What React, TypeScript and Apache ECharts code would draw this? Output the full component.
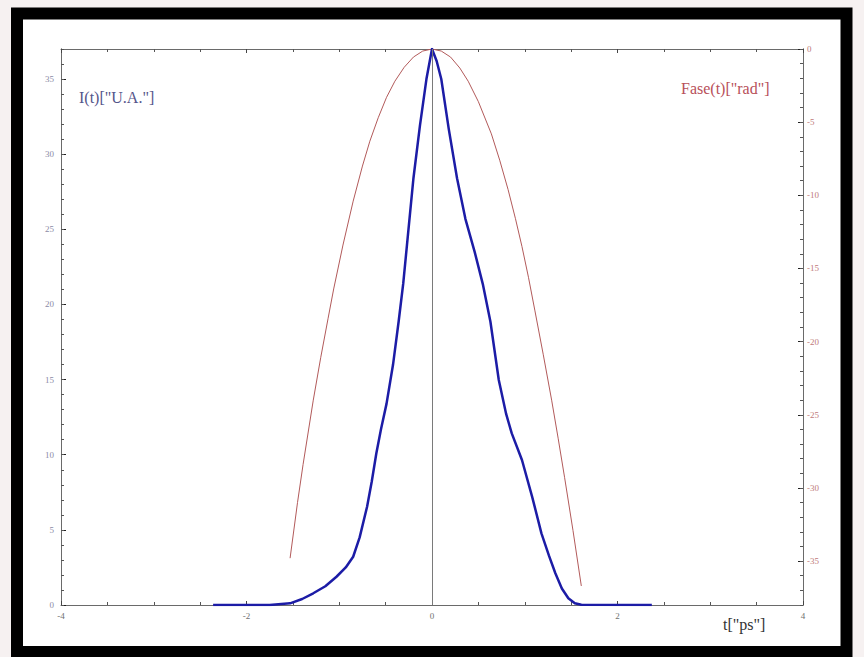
import React, { useEffect, useRef } from "react";
import * as echarts from "echarts";

// Pulse intensity I(t) [U.A.] sampled along t [ps]
const intensityT = [
  -2.36, -1.75, -1.53, -1.4, -1.28, -1.15, -1.03, -0.93, -0.85, -0.78, -0.7, -0.65, -0.6, -0.55,
  -0.49, -0.42, -0.36, -0.31, -0.27, -0.2, -0.13, -0.06, 0, 0.05, 0.1, 0.18, 0.27, 0.36, 0.46,
  0.55, 0.63, 0.72, 0.8, 0.86, 0.97, 1.08, 1.18, 1.26, 1.33, 1.4, 1.47, 1.54, 1.61, 2.37,
];
const intensity = [
  0, 0, 0.11, 0.4, 0.78, 1.25, 1.88, 2.5, 3.21, 4.5, 6.54, 8.2, 10.1, 11.7, 13.4, 16.0, 18.85,
  21.4, 23.95, 28.4, 31.9, 35.0, 37, 36.2, 35.0, 31.7, 28.4, 25.7, 23.5, 21.3, 18.85, 14.97,
  12.7, 11.42, 9.65, 7.2, 4.77, 3.3, 2.11, 1.1, 0.45, 0.12, 0.02, 0,
];

// Phase Fase(t) [rad]
const phaseT = [
  -1.53, -1.45, -1.39, -1.28, -1.2, -1.12, -1.06, -0.96, -0.85, -0.75, -0.67, -0.58, -0.49, -0.4,
  -0.3, -0.2, -0.1, 0, 0.1, 0.2, 0.3, 0.39, 0.5, 0.64, 0.73, 0.82, 0.9, 0.97, 1.04, 1.11, 1.2,
  1.29, 1.36, 1.43, 1.52, 1.61,
];
const phase = [
  -34.8, -31.0, -28.4, -24.0, -21.1, -18.4, -16.4, -13.4, -10.4, -8.0, -6.3, -4.7, -3.3, -2.2,
  -1.25, -0.55, -0.14, 0, -0.14, -0.55, -1.3, -2.2, -3.6, -5.8, -7.6, -9.6, -11.6, -13.5, -15.6,
  -17.9, -20.9, -24.0, -26.6, -29.3, -32.9, -36.7,
];

const leftLabels = [0, 5, 10, 15, 20, 25, 30, 35];
const rightLabels = [0, -5, -10, -15, -20, -25, -30, -35];

const SERIF = "'Liberation Serif', 'DejaVu Serif', serif";

export default function App() {
  const ref = useRef<HTMLDivElement>(null);

  useEffect(() => {
    if (!ref.current) return;
    const chart = echarts.init(ref.current, undefined, { renderer: "svg" });
    const axisGray = "#6a6a6a";

    const xCommon = {
      type: "value" as const,
      min: -4,
      max: 4,
      interval: 2,
      axisLine: { onZero: false, lineStyle: { color: axisGray, width: 1 } },
      axisTick: { show: true, inside: true, length: 4, lineStyle: { color: "#444" } },
      minorTick: { show: true, splitNumber: 4, length: 3, lineStyle: { color: "#555" } },
      splitLine: { show: false },
    };

    const yCommon = (position: "left" | "right", min: number, max: number) => ({
      type: "value" as const,
      position,
      min,
      max,
      axisLine: { show: true, onZero: false, lineStyle: { color: axisGray, width: 1 } },
      splitLine: { show: false },
    });

    chart.setOption({
      animation: false,
      backgroundColor: "#f6f1f1",
      grid: { left: 61, right: 61, top: 49, bottom: 52, containLabel: false },
      graphic: [
        {
          type: "rect",
          z: -10,
          silent: true,
          shape: { x: 17, y: 13.5, width: 829.5, height: 638.5 },
          style: { fill: "#ffffff", stroke: "#000000", lineWidth: 12 },
        },
        {
          type: "text",
          x: 79,
          y: 97,
          style: {
            text: 'I(t)["U.A."]',
            font: `16px ${SERIF}`,
            fill: "#55558a",
            verticalAlign: "middle",
          },
        },
        {
          type: "text",
          x: 681,
          y: 88,
          style: {
            text: 'Fase(t)["rad"]',
            font: `16px ${SERIF}`,
            fill: "#b8505a",
            verticalAlign: "middle",
          },
        },
        {
          type: "text",
          x: 723,
          y: 624,
          style: {
            text: 't["ps"]',
            font: `16px ${SERIF}`,
            fill: "#333333",
            verticalAlign: "middle",
          },
        },
      ],
      xAxis: [
        {
          ...xCommon,
          position: "bottom",
          axisLabel: { color: "#707070", fontSize: 9, fontFamily: SERIF, margin: 6 },
        },
        {
          ...xCommon,
          position: "top",
          axisLabel: { show: false },
        },
      ],
      yAxis: [
        {
          ...yCommon("left", 0, 37),
          axisLabel: {
            customValues: leftLabels,
            color: "#8a8aa6",
            fontSize: 9,
            fontFamily: SERIF,
            margin: 7,
          },
          axisTick: {
            show: true,
            inside: true,
            length: 5,
            customValues: leftLabels,
            lineStyle: { color: "#222" },
          },
        },
        {
          ...yCommon("right", -38, 0),
          axisLabel: {
            customValues: rightLabels,
            color: "#c07a7a",
            fontSize: 9,
            fontFamily: SERIF,
            margin: 4,
          },
          axisTick: {
            show: true,
            inside: true,
            length: 5,
            customValues: rightLabels,
            lineStyle: { color: "#222" },
          },
        },
        {
          // unit ticks along the left edge
          ...yCommon("left", 0, 37),
          interval: 1,
          axisLabel: { show: false },
          axisTick: { show: true, inside: true, length: 3, lineStyle: { color: "#555" } },
        },
        {
          // unit ticks along the right edge
          ...yCommon("right", -38, 0),
          interval: 1,
          axisLabel: { show: false },
          axisTick: { show: true, inside: true, length: 3, lineStyle: { color: "#555" } },
        },
      ],
      series: [
        {
          name: "Fase",
          type: "line",
          xAxisIndex: 0,
          yAxisIndex: 1,
          data: phaseT.map((t, i) => [t, phase[i]]),
          showSymbol: false,
          smooth: false,
          lineStyle: { color: "#b25a5a", width: 1, join: "round" },
          z: 3,
        },
        {
          name: "I",
          type: "line",
          xAxisIndex: 0,
          yAxisIndex: 0,
          data: intensityT.map((t, i) => [t, intensity[i]]),
          showSymbol: false,
          smooth: false,
          lineStyle: { color: "#1c1ca6", width: 2.5, join: "round" },
          markLine: {
            silent: true,
            symbol: "none",
            label: { show: false },
            lineStyle: { color: "#7a7a7a", width: 1, type: "solid" },
            data: [{ xAxis: 0 }],
          },
          z: 4,
        },
      ],
    });

    return () => chart.dispose();
  }, []);

  return (
    <div
      ref={ref}
      style={{ position: "fixed", left: 0, top: 0, width: 864, height: 657 }}
    />
  );
}
